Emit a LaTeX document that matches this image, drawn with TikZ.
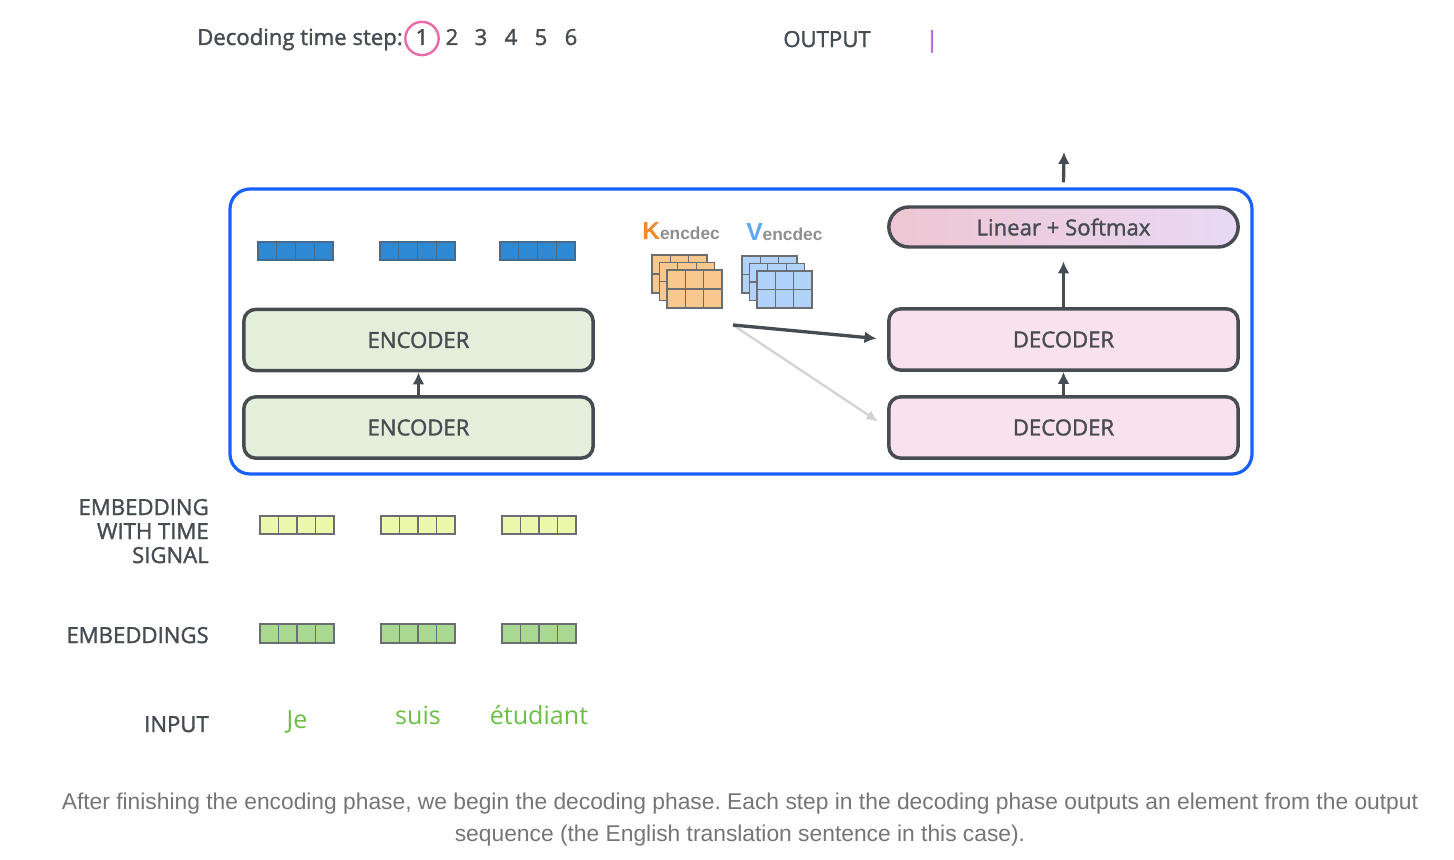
\documentclass[tikz,border=0pt]{standalone}
\usepackage{fontspec}
\setmainfont{Open Sans}
\newfontfamily\semib{Open Sans}[FakeBold=1.5]
\newfontfamily\curfont{Open Sans}[FakeBold=3]
\newfontfamily\capfont{Liberation Sans}
\usetikzlibrary{arrows.meta}
\definecolor{txt}{HTML}{474C53}
\definecolor{encfill}{HTML}{E2F0DB}
\definecolor{decfill}{HTML}{F9E2EE}
\definecolor{linL}{HTML}{EEC6D3}
\definecolor{linR}{HTML}{E9D9F4}
\definecolor{frameblue}{HTML}{1A5FFF}
\definecolor{circpink}{HTML}{E86AA8}
\definecolor{cursorpurple}{HTML}{B56AE0}
\definecolor{wordgreen}{HTML}{6CBF45}
\definecolor{vecblue}{HTML}{2D89D4}
\definecolor{vecblueline}{HTML}{456C8C}
\definecolor{vecyellow}{HTML}{ECF8AB}
\definecolor{vecgreen}{HTML}{A9D891}
\definecolor{vecline}{HTML}{6A6E72}
\definecolor{korange}{HTML}{F2892A}
\definecolor{vblue}{HTML}{5AA9F7}
\definecolor{kfill}{HTML}{F8C88F}
\definecolor{vfill}{HTML}{B1D3FA}
\definecolor{subgray}{HTML}{8F8F8F}
\definecolor{capgray}{HTML}{757575}
\definecolor{lightarrow}{HTML}{D3D3D3}
\tikzset{
  lbl/.style={text=txt, font=\semib\fontsize{16.6pt}{18pt}\selectfont, inner sep=0pt},
  stackbox/.style={draw=txt, line width=2.6pt, rounded corners=9pt, minimum width=262pt, minimum height=46pt, inner sep=0pt, text=txt, font=\semib\fontsize{16.6pt}{18pt}\selectfont},
  encbox/.style={stackbox, fill=encfill},
  decbox/.style={stackbox, fill=decfill},
  arr/.style={draw=txt, line width=2.5pt, -{Latex[length=9pt,width=9pt]}},
  lightarr/.style={draw=lightarrow, line width=1.7pt, -{Latex[length=9pt,width=8pt]}},
  word/.style={text=wordgreen, font=\fontsize{18.8pt}{20pt}\selectfont, inner sep=0pt},
}
\begin{document}
\begin{tikzpicture}[x=0.75pt,y=-0.75pt]
\useasboundingbox (0,0) rectangle (1454,860);

% header
\node[lbl, anchor=base east] (dts) at (403,45) {Decoding time step:};
\foreach \n/\x in {1/422,2/452,3/481,4/511,5/541,6/571}
  \node[lbl, anchor=base] (t\n) at (\x,45) {\n};
\node[draw=circpink, line width=1.8pt, circle, minimum size=25pt, inner sep=0pt] (tc) at (422,38.5) {};
\node[lbl, anchor=base] (out) at (827,47) {OUTPUT};
\node[text=cursorpurple, font=\curfont\fontsize{16.6pt}{18pt}\selectfont, inner sep=0pt, anchor=base] (cur) at (932,47) {|};

% frame
\node[draw=frameblue, line width=2.4pt, rounded corners=15pt, minimum width=766.5pt, minimum height=213.75pt, inner sep=0pt] (frame) at (741,331.5) {};

% encoders / decoders
\node[encbox] (enc2) at (418.5,340) {ENCODER};
\node[encbox] (enc1) at (418.5,427.5) {ENCODER};
\node[decbox] (dec2) at (1063.5,339.5) {DECODER};
\node[decbox] (dec1) at (1063.5,427.5) {DECODER};
\node[draw=txt, line width=2.6pt, rounded corners=15pt, minimum width=262pt, minimum height=30pt, inner sep=0pt, left color=linL, right color=linR, text=txt, font=\semib\fontsize{16.6pt}{18pt}\selectfont] (lin) at (1063.5,227) {Linear + Softmax};

\draw[arr] (enc1.north) -- (enc2.south);
\draw[arr] (dec1.north) -- (dec2.south);
\draw[arr, shorten >=9.5pt] (dec2.north) -- (lin.south);
\path (frame.north -| lin.north) ++(0,-5) coordinate (outstart);
\coordinate (outtip) at (1064,152);
\draw[arr] (outstart) -- (outtip);

% encoder output vectors
\foreach \x in {258,380,500}{
  \foreach \k in {0,1,2,3}
    \draw[fill=vecblue, draw=vecblueline, line width=1.1pt] (\x+18.75*\k,242) rectangle ++(18.75,18);
}
% embeddings with time signal
\foreach \x in {260,381,502}{
  \foreach \k in {0,1,2,3}
    \draw[fill=vecyellow, draw=vecline, line width=1.1pt] (\x+18.5*\k,516) rectangle ++(18.5,18);
}
% embeddings
\foreach \x in {260,381,502}{
  \foreach \k in {0,1,2,3}
    \draw[fill=vecgreen, draw=vecline, line width=1.1pt] (\x+18.5*\k,624) rectangle ++(18.5,19);
}

% K and V labels
\node[inner sep=0pt, anchor=base west] (klbl) at (642,239) {\capfont\fontsize{18.5pt}{20pt}\selectfont\bfseries\color{korange}K\fontsize{13pt}{14pt}\selectfont\color{subgray}encdec};
\node[inner sep=0pt, anchor=base west] (vlbl) at (746,240) {\capfont\fontsize{18.5pt}{20pt}\selectfont\bfseries\color{vblue}V\fontsize{13pt}{14pt}\selectfont\color{subgray}encdec};

% K and V matrices
\foreach \ox/\oy in {652/255,659.5/262.5,667/270}{
  \draw[fill=kfill, draw=vecline, line width=0.9pt] (\ox,\oy) rectangle ++(55,38);
  \draw[draw=vecline, line width=0.9pt] (\ox+18.33,\oy) -- ++(0,38) (\ox+36.67,\oy) -- ++(0,38) (\ox,\oy+19) -- ++(55,0);
}
\foreach \ox/\oy in {742/256,749.5/263.5,757/271}{
  \draw[fill=vfill, draw=vecline, line width=0.9pt] (\ox,\oy) rectangle ++(55,37);
  \draw[draw=vecline, line width=0.9pt] (\ox+18.33,\oy) -- ++(0,37) (\ox+36.67,\oy) -- ++(0,37) (\ox,\oy+18.5) -- ++(55,0);
}
\coordinate (kv) at (733,325);
\draw[lightarr, shorten >=8pt] (kv) -- (dec1.west);
\draw[arr, shorten >=8pt] (kv) -- (dec2.west);

% left labels
\node[lbl, align=right, anchor=base east] (ewts) at (209,563) {EMBEDDING\\WITH TIME\\SIGNAL};
\node[lbl, anchor=base east] (emb) at (209,643) {EMBEDDINGS};
\node[lbl, anchor=base east] (inp) at (209,732) {INPUT};

% input words
\node[word, anchor=base] (w1) at (297,728) {Je};
\node[word, anchor=base] (w2) at (418,724) {suis};
\node[word, anchor=base] (w3) at (539,724) {étudiant};

% caption
\node[inner sep=0pt, anchor=base, text=capgray, font=\capfont\fontsize{17.1pt}{18pt}\selectfont\frenchspacing] (cap1) at (740,809) {After finishing the encoding phase, we begin the decoding phase. Each step in the decoding phase outputs an element from the output};
\node[inner sep=0pt, anchor=base, text=capgray, font=\capfont\fontsize{17.1pt}{18pt}\selectfont\frenchspacing] (cap2) at (740,841) {sequence (the English translation sentence in this case).};
\end{tikzpicture}
\end{document}
